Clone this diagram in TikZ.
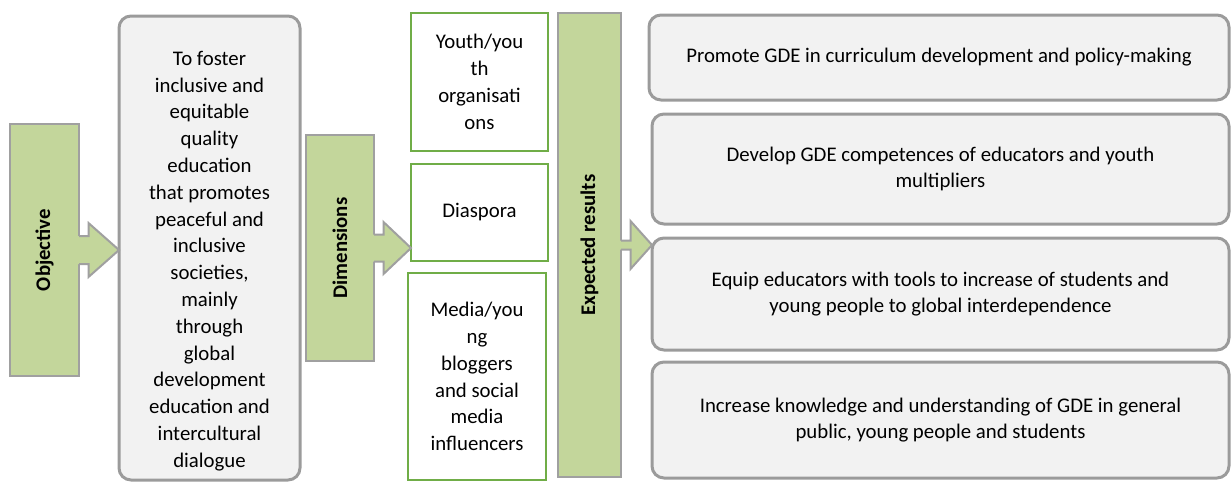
\documentclass[tikz,border=0pt]{standalone}
\usepackage{fontspec}
\setmainfont{Carlito}
\usepackage{color}
\usepackage{tikz}
\usetikzlibrary{calc}

\definecolor{barfill}{RGB}{195,214,155}
\definecolor{barline}{RGB}{160,160,160}
\definecolor{boxfill}{RGB}{242,242,242}
\definecolor{boxline}{RGB}{155,155,155}
\definecolor{dimline}{RGB}{112,173,71}

\newcommand{\blockarrow}[4]{%
  \fill[barfill] ($(#1.east)+(-2,-#3)$) -- ($(#1.east)+(9.5,-#3)$) -- ($(#1.east)+(9.5,-#4)$)
    -- (#1.east -| #2.west) -- ($(#1.east)+(9.5,#4)$) -- ($(#1.east)+(9.5,#3)$) -- ($(#1.east)+(-2,#3)$) -- cycle;
  \draw[barline,line width=1pt] ($(#1.east)+(0,-#3)$) -- ($(#1.east)+(9.5,-#3)$) -- ($(#1.east)+(9.5,-#4)$)
    -- (#1.east -| #2.west) -- ($(#1.east)+(9.5,#4)$) -- ($(#1.east)+(9.5,#3)$) -- ($(#1.east)+(0,#3)$);
}

\begin{document}
\begin{tikzpicture}[x=0.5pt,y=-0.5pt,
    every node/.style={font=\fontsize{10.4}{13.4}\selectfont},
    bar/.style={draw=barline,fill=barfill,line width=1pt,outer sep=0pt,inner sep=0pt},
    barlabel/.style={rotate=90,font=\fontsize{10.4}{13.4}\selectfont\bfseries},
    goal/.style={draw=boxline,fill=boxfill,line width=1.5pt,rounded corners=6pt,outer sep=0pt,align=center},
    dim/.style={draw=dimline,fill=white,line width=1pt,outer sep=0pt,align=center}]
  \useasboundingbox (0,0) rectangle (1231,484);

  \node[bar,minimum width=34.5pt,minimum height=126pt] (obj) at (44.5,250) {};
  \node[barlabel] (objlabel) at (obj) {Objective};
  \node[goal,minimum width=90.5pt,minimum height=232pt] (aim) at (209.5,248)
    {\rule{0pt}{20pt}To foster\\inclusive and\\equitable\\quality\\education\\that promotes\\peaceful and\\inclusive\\societies,\\mainly\\through\\global\\development\\education and\\intercultural\\dialogue};

  \node[bar,minimum width=34pt,minimum height=113pt] (dims) at (340,248) {};
  \node[barlabel] (dimslabel) at (dims) {Dimensions};
  \node[dim,minimum width=68.5pt,minimum height=69pt] (youth) at (479.5,82) {Youth/you\\th\\organisati\\ons};
  \node[dim,minimum width=68.5pt,minimum height=48.5pt] (diaspora) at (479.5,212.5) {Diaspora};
  \node[dim,minimum width=69pt,minimum height=103.5pt] (media) at (477,376.5)
    {Media/you\\ng\\bloggers\\and social\\media\\influencers};

  \node[bar,minimum width=31.5pt,minimum height=232pt] (exp) at (589.5,245) {};
  \node[barlabel] (explabel) at (exp) {Expected results};
  \node[goal,minimum width=290pt,minimum height=42.5pt] (res1) at (939,57.5)
    {Promote GDE in curriculum development and policy-making};
  \node[goal,minimum width=288.5pt,minimum height=55pt] (res2) at (940.5,169)
    {Develop GDE competences of educators and youth\\multipliers};
  \node[goal,minimum width=288.5pt,minimum height=56pt] (res3) at (940.5,294)
    {Equip educators with tools to increase of students and\\young people to global interdependence};
  \node[goal,minimum width=288.5pt,minimum height=58pt] (res4) at (940.5,420)
    {Increase knowledge and understanding of GDE in general\\public, young people and students};

  \blockarrow{obj}{aim}{14}{27}
  \blockarrow{dims}{diaspora}{13.5}{26}
  \blockarrow{exp}{res3}{4.5}{24}
\end{tikzpicture}
\end{document}
